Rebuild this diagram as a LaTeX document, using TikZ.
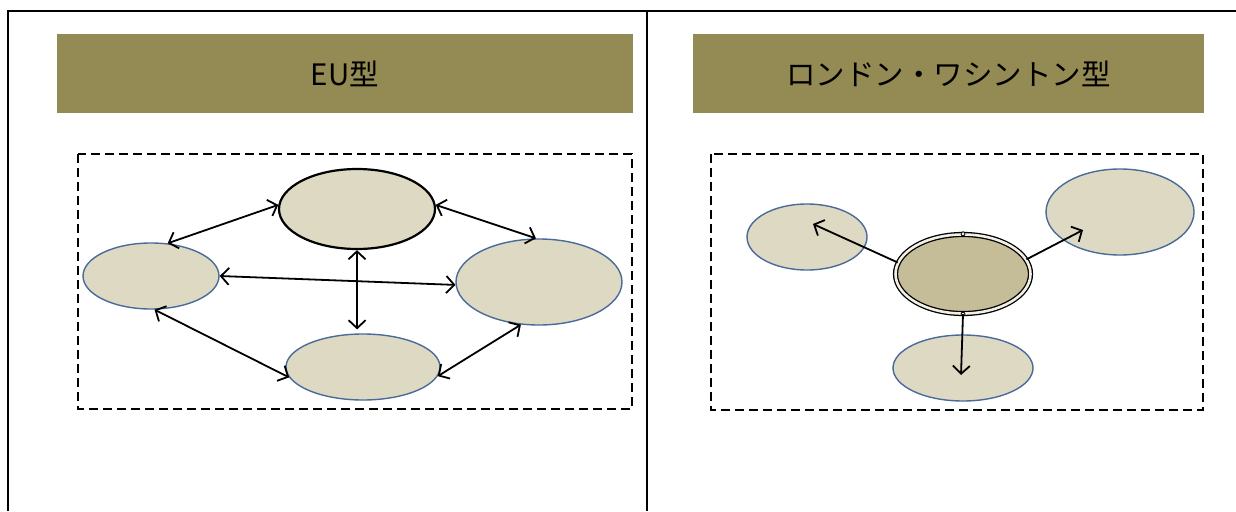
\documentclass[tikz,border=0pt]{standalone}
\usepackage{fontspec}
\newfontfamily\jp{Noto Sans CJK JP}
\usetikzlibrary{shapes.geometric,arrows.meta,calc}
\definecolor{hdr}{HTML}{948A54}
\definecolor{efill}{HTML}{DDD9C3}
\definecolor{eline}{HTML}{4A6A9A}
\definecolor{cfill}{HTML}{C4BD97}
\definecolor{gapc}{HTML}{F2F0E6}
\tikzset{
  header/.style={fill=hdr,draw=none,inner sep=0pt,font=\jp\fontsize{29.5}{33}\selectfont,text=black},
  bubble/.style={ellipse,draw=eline,line width=1.4pt,fill=efill,inner sep=0pt},
  mainbubble/.style={ellipse,draw=black,line width=2.2pt,fill=efill,inner sep=0pt},
  hub/.style={ellipse,draw=black,line width=1.3pt,double=gapc,double distance=2.6pt,fill=cfill,inner sep=0pt},
  dashbox/.style={draw=black,line width=1.8pt,dash pattern=on 9pt off 5pt},
  link/.style={line width=1.8pt,{Straight Barb[length=8pt,width=17pt,line width=1.8pt]}-{Straight Barb[length=8pt,width=17pt,line width=1.8pt]}},
  ray/.style={line width=1.8pt,-{Straight Barb[length=8pt,width=17pt,line width=1.8pt]}},
  frame/.style={draw=black,line width=1.6pt}
}
\begin{document}
\begin{tikzpicture}[x=1pt,y=-1pt]
\useasboundingbox (0,0) rectangle (1236,511);
% frame
\draw[frame,line width=2.2pt] (7,11) coordinate (ftl) -- (1236,11) coordinate (ftr);
\draw[frame] (8,11) coordinate (fl1) -- (8,511) coordinate (fl2);
\draw[frame] (647,11) coordinate (fm1) -- (647,511) coordinate (fm2);
% headers
\node[header,minimum width=576pt,minimum height=79pt] (h1) at (345,73.5) {EU型};
\node[header,minimum width=511pt,minimum height=79pt] (h2) at (948.5,73.5) {ロンドン・ワシントン型};
% dashed boxes
\draw[dashbox] (78,154) rectangle (632,409);
\draw[dashbox] (711,154) rectangle (1203,410);
% EU panel
\node[mainbubble,minimum width=156pt,minimum height=80pt] (T) at (357,209) {};
\node[bubble,minimum width=136pt,minimum height=66pt] (L) at (151,276) {};
\node[bubble,minimum width=166pt,minimum height=86pt] (R) at (539,282) {};
\node[bubble,minimum width=154pt,minimum height=66pt] (B) at (363,367) {};
\draw[link] (L.63) -- (T.177);
\draw[link] (T.3) -- (R.94);
\draw[link] (L.0) -- (R.182);
\draw[link] (T.south) -- ($(B.100)+(0,-4)$);
\draw[link] (L.276) -- (B.188);
\draw[link] (B.353) -- (R.247);
% London-Washington panel
\node[bubble,minimum width=120pt,minimum height=66pt] (LL) at (807,237) {};
\node[bubble,minimum width=148pt,minimum height=86pt] (RR) at (1120,212) {};
\node[bubble,minimum width=140pt,minimum height=66pt] (BB) at (963,368) {};
\node[hub,minimum width=135pt,minimum height=79pt] (C) at (963,274) {};
\draw[line width=0.9pt,fill=gapc] (C.north) circle (2pt);
\draw[line width=0.9pt,fill=gapc] (C.south) circle (2pt);
\draw[ray] (C.170) -- ($(LL.center)+(6,-13)$);
\draw[ray] (C.13) -- ($(RR.center)+(-37,18)$);
\draw[ray] (C.south) -- ($(BB.center)+(-2,7)$);
\end{tikzpicture}
\end{document}
